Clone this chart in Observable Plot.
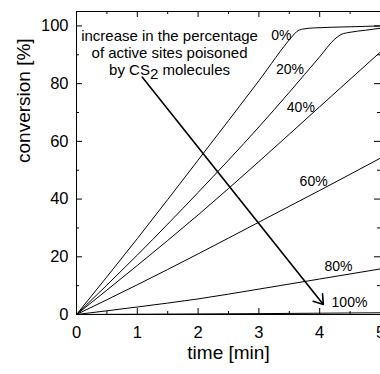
<!DOCTYPE html>
<html>
<head>
<meta charset="utf-8">
<script src="https://cdn.jsdelivr.net/npm/d3@7"></script>
<script src="https://cdn.jsdelivr.net/npm/@observablehq/plot@0.6"></script>
<style>
  html, body { margin: 0; padding: 0; background: #fff; }
  svg { font-family: "Liberation Sans", Arial, sans-serif; }
</style>
</head>
<body>
<div id="chart"></div>
<script>
// ---- data ----
const series = ["0%", "20%", "40%", "60%", "80%", "100%"];
const t0 = [0, 1, 2, 3, 3.55, 3.62, 3.72, 3.9, 4.5, 5];
const c0 = [0, 26.3, 53.5, 81, 96.4, 98, 98.9, 99.3, 99.7, 100];
const t20 = [0, 1, 2, 3, 4, 4.25, 4.35, 4.5, 4.75, 5];
const c20 = [0, 20.6, 42.3, 65, 89.3, 95.5, 97, 97.8, 98.5, 99.2];
const t40 = [0, 1, 2, 3, 4, 5];
const c40 = [0, 17, 34.5, 53, 72, 91];
const t60 = [0, 1, 2, 3, 4, 5];
const c60 = [0, 10.3, 21, 32, 43, 54.2];
const t80 = [0, 1, 2, 3, 4, 5];
const c80 = [0, 2.6, 5.4, 8.8, 12.3, 15.8];
const t100 = [0, 1, 2, 3, 4, 5];
const c100 = [0, 0.1, 0.2, 0.3, 0.45, 0.6];

const labelX = [3.37, 3.51, 3.69, 3.90, 4.31, 4.49];
const labelY = [96.8, 85, 71.9, 46.1, 16.6, 4.1];

const annotation = ["increase in the percentage", "of active sites poisoned", "by CS2 molecules"];
const annotationX = 1.53;
const annotationY = 90.8;
const arrowFrom = [1.08, 82.3];
const arrowTo = [4.06, 3.5];

const xMajor = [0, 1, 2, 3, 4, 5];
const xMinor = [0.5, 1.5, 2.5, 3.5, 4.5];
const yMajor = [0, 20, 40, 60, 80, 100];
const yMinor = [10, 30, 50, 70, 90];

// ---- build table ----
const times = [t0, t20, t40, t60, t80, t100];
const convs = [c0, c20, c40, c60, c80, c100];
const rows = [];
series.forEach((s, i) => times[i].forEach((t, j) => rows.push({series: s, time: t, conv: convs[i][j]})));
const labels = series.map((s, i) => ({text: s, x: labelX[i], y: labelY[i]}));

const W = 380, H = 374, mL = 76, mR = 0, mT = 11, mB = 60;
const pw = W - mL - mR, ph = H - mT - mB;
const MAJ = 6, MIN = 3;

const plot = Plot.plot({
  width: W, height: H,
  marginLeft: mL, marginRight: mR, marginTop: mT, marginBottom: mB,
  style: {fontFamily: '"Liberation Sans", Arial, sans-serif', background: "#fff", color: "#000"},
  x: {domain: [0, 5], label: null},
  y: {domain: [0, 105], label: null},
  marks: [
    Plot.line(rows, {x: "time", y: "conv", z: "series", stroke: "#000", strokeWidth: 1, curve: "monotone-x"}),
    // inward ticks: bottom/top
    Plot.tickX(xMajor, {x: d => d, insetTop: ph - MAJ, stroke: "#000"}),
    Plot.tickX(xMinor, {x: d => d, insetTop: ph - MIN, stroke: "#000"}),
    Plot.tickX(xMajor, {x: d => d, insetBottom: ph - MAJ, stroke: "#000"}),
    Plot.tickX(xMinor, {x: d => d, insetBottom: ph - MIN, stroke: "#000"}),
    // inward ticks: left/right
    Plot.tickY(yMajor, {y: d => d, insetRight: pw - MAJ, stroke: "#000"}),
    Plot.tickY(yMinor, {y: d => d, insetRight: pw - MIN, stroke: "#000"}),
    Plot.tickY(yMajor, {y: d => d, insetLeft: pw - MAJ, stroke: "#000"}),
    Plot.tickY(yMinor, {y: d => d, insetLeft: pw - MIN, stroke: "#000"}),
    Plot.frame({stroke: "#000", strokeWidth: 1}),
    Plot.axisX(xMajor, {tickSize: 0, tickPadding: 12, fontSize: 16.5, label: null, tickFormat: d => String(d)}),
    Plot.axisY(yMajor, {tickSize: 0, tickPadding: 8, fontSize: 16.5, label: null, tickFormat: d => String(d)}),
    Plot.text(["time [min]"], {frameAnchor: "bottom", dy: 44, fontSize: 19, fill: "#000"}),
    Plot.text(["conversion [%]"], {frameAnchor: "left", dx: -53, rotate: -90, fontSize: 19, fill: "#000"}),
    Plot.text(labels, {x: "x", y: "y", text: "text", fontSize: 14, fill: "#000"}),
    Plot.text([annotation.join("\n")], {x: annotationX, y: annotationY, fontSize: 15, lineHeight: 1.13, fill: "#000", className: "annot"}),
    Plot.arrow([{x1: arrowFrom[0], y1: arrowFrom[1], x2: arrowTo[0], y2: arrowTo[1]}],
      {x1: "x1", y1: "y1", x2: "x2", y2: "y2", stroke: "#000", strokeWidth: 1.6, headLength: 10, headAngle: 68})
  ]
});

// subscript the 2 in CS2
plot.querySelectorAll(".annot tspan, .annot text").forEach(el => {
  if (el.children.length === 0 && el.textContent === "by CS2 molecules") {
    el.textContent = "by CS";
    const ns = "http://www.w3.org/2000/svg";
    const sub = document.createElementNS(ns, "tspan");
    sub.setAttribute("dy", "0.3em");
    sub.textContent = "2";
    const rest = document.createElementNS(ns, "tspan");
    rest.setAttribute("dy", "-0.3em");
    rest.textContent = " molecules";
    el.appendChild(sub);
    el.appendChild(rest);
  }
});

document.getElementById("chart").appendChild(plot);
</script>
</body>
</html>
